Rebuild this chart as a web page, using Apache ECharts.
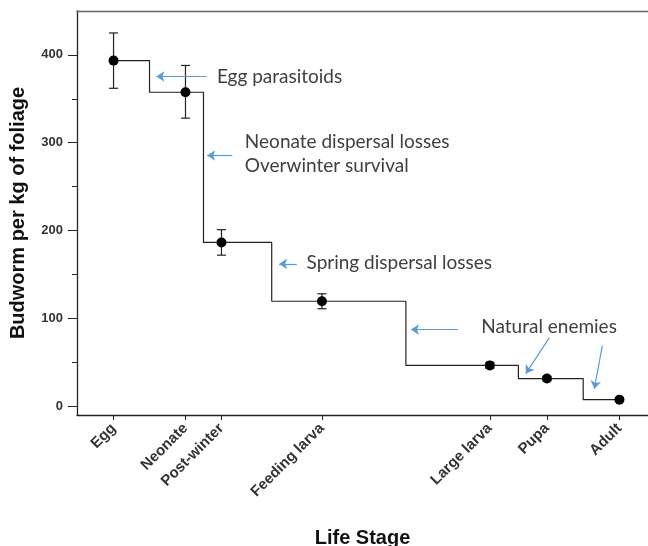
<!DOCTYPE html>
<html>
<head>
<meta charset="utf-8">
<script src="https://cdn.jsdelivr.net/npm/echarts@6/dist/echarts.min.js"></script>
<style>
  html, body { margin: 0; padding: 0; background: #fff; }
  #chart { width: 648px; height: 546px; }
</style>
</head>
<body>
<div id="chart"></div>
<script>
// life stages, placed along the x axis (arbitrary units 0..100)
const stages = ['Egg', 'Neonate', 'Post-winter', 'Feeding larva', 'Large larva', 'Pupa', 'Adult']
const stagePos = [6.4, 19.0, 25.3, 42.9, 72.3, 82.3, 95.0]
const density = [393.5, 357.5, 186.5, 119.5, 46.5, 31.5, 7.5]
const errLow = [362, 328, 172, 111, 43, 29, 6]
const errHigh = [425, 388, 201, 128, 50, 34, 9]

const yMajor = [0, 100, 200, 300, 400]
const yMinor = [50, 150, 250, 350]

// annotations (data coords)
const notes = [
    { text: 'Egg parasitoids', x: 24.5, y: 375.4 },
    { text: 'Neonate dispersal losses', x: 29.4, y: 301.5 },
    { text: 'Overwinter survival', x: 29.4, y: 274.2 },
    { text: 'Spring dispersal losses', x: 40.2, y: 163.1 },
    { text: 'Natural enemies', x: 70.8, y: 90.3 }
]
const arrows = [
    [[22.7, 375.4], [13.9, 375.4]],
    [[27.2, 285.5], [22.8, 285.5]],
    [[38.5, 162], [35.4, 162]],
    [[66.7, 87.3], [58.5, 87.3]],
    [[82.7, 77.8], [78.6, 37.2]],
    [[92.0, 69.1], [90.6, 19.8]]
]

const chart = echarts.init(document.getElementById('chart'))

const lineData = stagePos.map((x, i) => [x, density[i]])
const errData = stagePos.map((x, i) => [x, density[i], errLow[i], errHigh[i]])

const labelFont = { fontFamily: 'Liberation Sans, Arial', fontWeight: 'bold', fontSize: 13, color: '#333' }
const nameFont = { fontFamily: 'Liberation Sans, Arial', fontWeight: 'bold', fontSize: 20, color: '#111' }

const option = {
    animation: false,
    grid: { left: 77, top: 11, right: 0, bottom: 131, outerBoundsMode: 'none' },
    xAxis: [
        {
            type: 'value',
            min: 0,
            max: 100,
            name: 'Life Stage',
            nameLocation: 'middle',
            nameGap: 113,
            nameTextStyle: nameFont,
            splitLine: { show: false },
            axisLine: { onZero: false, lineStyle: { color: '#222', width: 1.3 } },
            axisTick: { customValues: stagePos, length: 5, lineStyle: { color: '#222' } },
            axisLabel: Object.assign({
                customValues: stagePos,
                rotate: 45,
                margin: 11,
                formatter: function (v) {
                    const i = stagePos.indexOf(v)
                    return i >= 0 ? stages[i] : ''
                }
            }, labelFont, { fontSize: 15 })
        },
        {
            type: 'value',
            position: 'top',
            min: 0,
            max: 100,
            splitLine: { show: false },
            axisLine: { show: true, onZero: false, lineStyle: { color: '#666', width: 1.3 } },
            axisTick: { show: false },
            axisLabel: { show: false }
        }
    ],
    yAxis: [
        {
            type: 'value',
            min: -10,
            max: 450,
            name: 'Budworm per kg of foliage',
            nameLocation: 'middle',
            nameGap: 49,
            nameTextStyle: nameFont,
            splitLine: { show: false },
            axisLine: { show: true, onZero: false, lineStyle: { color: '#222', width: 1.3 } },
            axisTick: { customValues: yMajor, length: 9, lineStyle: { color: '#222' } },
            axisLabel: Object.assign({ customValues: yMajor, margin: 14 }, labelFont)
        },
        {
            type: 'value',
            position: 'left',
            min: -10,
            max: 450,
            splitLine: { show: false },
            axisLine: { show: false, onZero: false },
            axisTick: { customValues: yMinor, length: 5, lineStyle: { color: '#222' } },
            axisLabel: { show: false }
        }
    ],
    series: [
        {
            type: 'line',
            step: 'middle',
            data: lineData,
            symbol: 'circle',
            symbolSize: 10,
            itemStyle: { color: '#000' },
            lineStyle: { color: '#222', width: 1.2 },
            markLine: {
                silent: true,
                symbol: ['none', 'arrow'],
                symbolSize: 8,
                label: { show: false },
                lineStyle: { color: '#5B9BD5', width: 1.2, type: 'solid' },
                emphasis: { disabled: true },
                data: arrows.map(a => [
                    { coord: a[0], lineStyle: { color: '#5B9BD5' }, itemStyle: { color: '#5B9BD5' } },
                    { coord: a[1], itemStyle: { color: '#5B9BD5' } }
                ])
            }
        },
        {
            type: 'custom',
            data: errData,
            encode: { x: 0, y: 1 },
            z: 1,
            renderItem: function (params, api) {
                const x = api.value(0)
                const lo = api.coord([x, api.value(2)])
                const hi = api.coord([x, api.value(3)])
                const w = 4.5
                const style = { stroke: '#222', lineWidth: 1.2 }
                return {
                    type: 'group',
                    children: [
                        { type: 'line', shape: { x1: lo[0], y1: lo[1], x2: hi[0], y2: hi[1] }, style: style },
                        { type: 'line', shape: { x1: lo[0] - w, y1: lo[1], x2: lo[0] + w, y2: lo[1] }, style: style },
                        { type: 'line', shape: { x1: hi[0] - w, y1: hi[1], x2: hi[0] + w, y2: hi[1] }, style: style }
                    ]
                }
            }
        }
    ]
}

chart.setOption(option)

chart.setOption({
    graphic: notes.map(n => {
        const p = chart.convertToPixel({ xAxisIndex: 0, yAxisIndex: 0 }, [n.x, n.y])
        return {
            type: 'text',
            x: p[0],
            y: p[1],
            style: {
                text: n.text,
                fontFamily: 'Lato, Noto Sans',
                fontSize: 19,
                fill: '#404040',
                verticalAlign: 'middle'
            }
        }
    })
})
</script>
</body>
</html>
